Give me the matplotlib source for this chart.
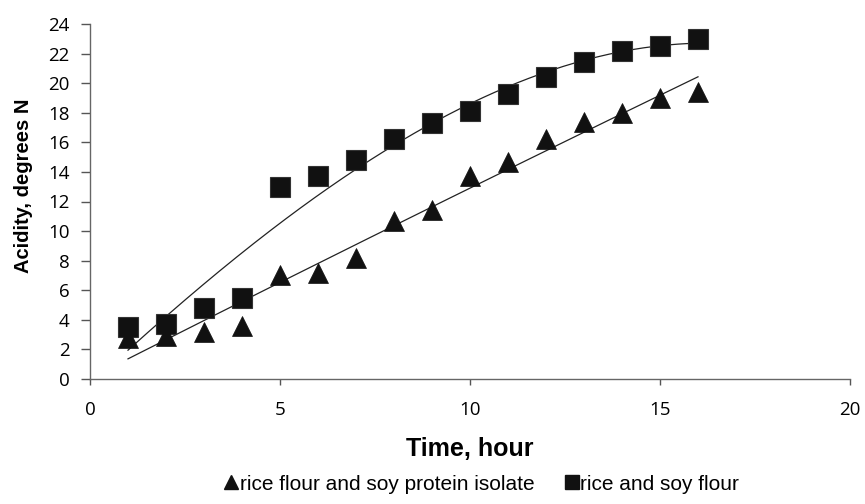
import numpy as np
import matplotlib
matplotlib.use("Agg")
import matplotlib.pyplot as plt
from matplotlib.lines import Line2D

# Fermentation time, hours
hours = [1, 2, 3, 4, 5, 6, 7, 8, 9, 10, 11, 12, 13, 14, 15, 16]
# Acidity, degrees N
acid_isolate = [2.8, 2.9, 3.2, 3.6, 7.0, 7.2, 8.2, 10.7, 11.4, 13.7, 14.7, 16.2, 17.4, 18.0, 19.0, 19.4]
acid_flour = [3.5, 3.7, 4.8, 5.5, 13.0, 13.7, 14.8, 16.2, 17.3, 18.1, 19.3, 20.4, 21.4, 22.2, 22.5, 23.0]

label_isolate = "rice flour and soy protein isolate"
label_flour = "rice and soy flour"

fig = plt.figure(figsize=(8.65, 5.04), dpi=100)
ax = fig.add_axes([90 / 865, 1 - 379 / 504, 760 / 865, 355 / 504])

x = np.array(hours, dtype=float)
xs = np.linspace(x.min(), x.max(), 200)

# polynomial trendlines through each series
fit_iso = np.polyfit(x, acid_isolate, 2)
fit_flour = np.polyfit(x, acid_flour, 3)
ax.plot(xs, np.polyval(fit_iso, xs), color="#222222", lw=0.9, zorder=2)
ax.plot(xs, np.polyval(fit_flour, xs), color="#222222", lw=0.9, zorder=2)

ax.plot(hours, acid_flour, ls="none", marker="s", ms=14, color="#111111",
        mec="#333333", mew=0.8, zorder=3)
ax.plot(hours, acid_isolate, ls="none", marker="^", ms=15, color="#111111",
        mec="#111111", mew=0.5, zorder=4)

ax.set_xlim(0, 20)
ax.set_ylim(0, 24)
ax.set_xticks([0, 5, 10, 15, 20])
ax.set_yticks(range(0, 25, 2))

tick_font = ["Open Sans", "DejaVu Sans"]
for lab in ax.get_xticklabels() + ax.get_yticklabels():
    lab.set_family(tick_font)
    lab.set_fontsize(13.5)
ax.tick_params(axis="y", direction="out", length=6.5, width=1, color="#555555", pad=8)
ax.tick_params(axis="x", direction="out", length=4.5, width=1, color="#555555", pad=11)

for side in ("top", "right"):
    ax.spines[side].set_visible(False)
for side in ("left", "bottom"):
    ax.spines[side].set_color("#666666")
    ax.spines[side].set_linewidth(1.0)

ax.set_xlabel("Time, hour", fontsize=18, fontweight="bold",
              family=["Liberation Sans", "DejaVu Sans"], labelpad=13)
ax.set_ylabel("Acidity, degrees N", fontsize=14.5, fontweight="bold",
              family=["Liberation Sans", "DejaVu Sans"])
ax.yaxis.set_label_coords(-0.075, 0.544)

handles = [
    Line2D([], [], ls="none", marker="^", ms=10, color="#111111"),
    Line2D([], [], ls="none", marker="s", ms=10, color="#111111"),
]
fig.legend(handles, [label_isolate, label_flour], loc="center",
           bbox_to_anchor=(482 / 865, 1 - 484 / 504), ncol=2, frameon=False,
           handlelength=0.6, handletextpad=0.1, columnspacing=1.5,
           prop={"family": ["Liberation Sans", "DejaVu Sans"], "size": 15})

fig.savefig("out.png", dpi=100)
